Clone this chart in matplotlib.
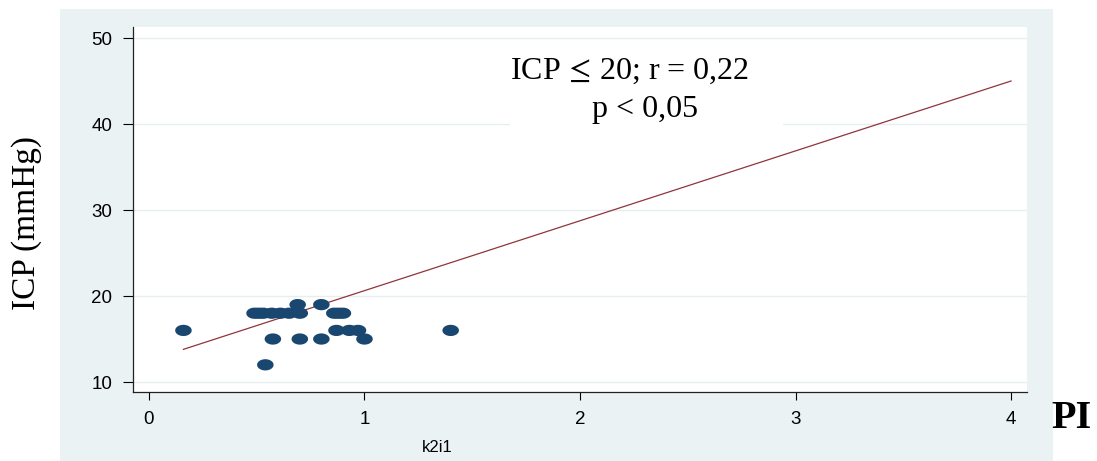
import matplotlib
matplotlib.use("Agg")
import matplotlib.pyplot as plt
import numpy as np
from matplotlib.path import Path
from matplotlib.patches import Rectangle

plt.rcParams["mathtext.fontset"] = "stix"

# Data (PI vs ICP)
pi_values = [0.16, 0.49, 0.51, 0.53, 0.57, 0.61, 0.65, 0.70, 0.86, 0.88, 0.90,
             0.69, 0.80,
             0.87, 0.93, 0.97, 1.40,
             0.575, 0.70, 0.80, 1.00,
             0.54]
icp_values = [16, 18, 18, 18, 18, 18, 18, 18, 18, 18, 18,
              19, 19,
              16, 16, 16, 16,
              15, 15, 15, 15,
              12]
fit_x = [0.16, 4.0]
fit_y = [13.8, 45.0]
yticks = [10, 20, 30, 40, 50]
xticks = [0, 1, 2, 3, 4]

W, H = 1097, 461
fig = plt.figure(figsize=(W / 100, H / 100), dpi=100)
fig.patch.set_facecolor("white")

bg = "#eaf2f3"
bgax = fig.add_axes([60 / W, 0, (1053 - 60) / W, (461 - 9) / H], zorder=-5)
bgax.set_facecolor(bg)
bgax.set_axis_off()
bgax.add_patch(Rectangle((0, 0), 1, 1, transform=bgax.transAxes,
                         facecolor=bg, edgecolor="none"))

ax = fig.add_axes([133 / W, (H - 392) / H, (1027 - 133) / W, (392 - 27) / H])
ax.set_facecolor("white")
ax.set_xlim(-0.074, 4.074)
ax.set_ylim(8.84, 51.28)

for yv in yticks:
    ax.axhline(yv, color="#e6eeef", lw=1.0, zorder=1)

# ellipse marker
t = np.linspace(0, 2 * np.pi, 60)
ell = Path(np.column_stack([np.cos(t), 0.68 * np.sin(t)]), closed=True)

ax.plot(fit_x, fit_y, color="#90353b", lw=0.9, zorder=3)
ax.scatter(pi_values, icp_values, marker=ell, s=16.5 ** 2 * 0.52,
           color="#1a476f", edgecolors="none", zorder=4)

# white annotation box
ax.add_patch(Rectangle((1.675, 39.5), 1.265, 9.8, facecolor="white",
                       edgecolor="none", zorder=2))
ax.text(1.675, 46.1, r"ICP $\!{\leq}\!$ 20; r = 0,22", fontsize=23,
        family="Liberation Serif", ha="left", va="center", zorder=5)
ax.text(2.30, 41.7, "p < 0,05", fontsize=23,
        family="Liberation Serif", ha="center", va="center", zorder=5)

ax.set_yticks(yticks)
ax.set_xticks(xticks)
for lab in ax.get_xticklabels() + ax.get_yticklabels():
    lab.set_family("Liberation Sans")
    lab.set_fontsize(13.5)
ax.tick_params(axis="y", direction="out", length=7, width=0.8, pad=8)
ax.tick_params(axis="x", direction="out", length=6, width=0.8, pad=8)

for s in ["top", "right"]:
    ax.spines[s].set_visible(False)
for s in ["left", "bottom"]:
    ax.spines[s].set_linewidth(0.9)
    ax.spines[s].set_color("#222222")

fig.text(27 / W, 1 - 223 / H, "ICP (mmHg)", rotation=90, ha="center", va="center",
         fontsize=24, family="Liberation Serif")
fig.text(437 / W, 1 - 447 / H, "k2i1", ha="center", va="center",
         fontsize=12, family="Liberation Sans")
fig.text(1071 / W, 1 - 418 / H, "PI", ha="center", va="center",
         fontsize=29, family="Liberation Serif", weight="bold")

fig.savefig("out.png", dpi=100)
